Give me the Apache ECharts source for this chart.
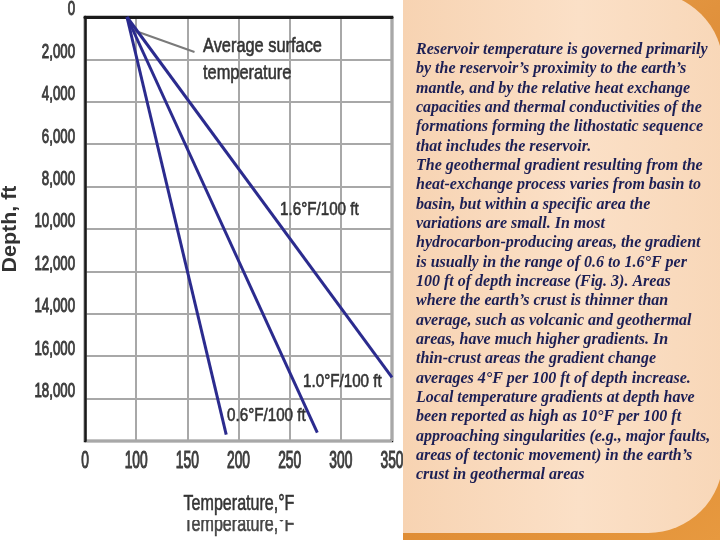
<!DOCTYPE html>
<html><head><meta charset="utf-8">
<script src="https://cdn.jsdelivr.net/npm/echarts@6/dist/echarts.min.js"></script>
<style>html,body{margin:0;padding:0;background:#fff}#c{width:720px;height:540px}</style>
</head><body><div id="c"></div>
<script>
// ---- data ----
const xTicks = [50, 100, 150, 200, 250, 300, 350];
const xTickLabels = ['0', '100', '150', '200', '250', '300', '350'];
const yTicks = [0, 2000, 4000, 6000, 8000, 10000, 12000, 14000, 16000, 18000];
const yTickLabels = ['0', '2,000', '4,000', '6,000', '8,000', '10,000', '12,000', '14,000', '16,000', '18,000'];
const surfaceTemp = 91;
const line06 = [[surfaceTemp, 0], [188, 19700]];
const line10 = [[surfaceTemp, 0], [277, 19600]];
const line16 = [[surfaceTemp, 0], [350, 17000]];
const leader = [[96, 600], [157, 1650]];
const lineLabels = ['0.6°F/100 ft', '1.0°F/100 ft', '1.6°F/100 ft'];
const annotation = ['Average surface', 'temperature'];
const xName = 'Temperature,°F';
const yName = 'Depth, ft';
const panelLines = [
 'Reservoir temperature is governed primarily',
 'by the reservoir’s proximity to the earth’s',
 'mantle, and by the relative heat exchange',
 'capacities and thermal conductivities of the',
 'formations forming the lithostatic sequence',
 'that includes the reservoir.',
 'The geothermal gradient resulting from the',
 'heat-exchange process varies from basin to',
 'basin, but within a specific area the',
 'variations are small. In most',
 'hydrocarbon-producing areas, the gradient',
 'is usually in the range of 0.6 to 1.6°F per',
 '100 ft of depth increase (Fig. 3). Areas',
 'where the earth’s crust is thinner than',
 'average, such as volcanic and geothermal',
 'areas, have much higher gradients. In',
 'thin-crust areas the gradient change',
 'averages 4°F per 100 ft of depth increase.',
 'Local temperature gradients at depth have',
 'been reported as high as 10°F per 100 ft',
 'approaching singularities (e.g., major faults,',
 'areas of tectonic movement) in the earth’s',
 'crust in geothermal areas'
];

const SANS = '"Liberation Sans",Arial,sans-serif';
const TXT = '#333';
const chart = echarts.init(document.getElementById('c'));

function ctext(x, y, text, size, sx, opts) {
  opts = opts || {};
  const fill = opts.fill || TXT;
  const st = {text:text, font:(opts.weight||'normal')+' '+size+'px '+SANS, fill:fill,
      textAlign:opts.align||'left', textVerticalAlign:opts.valign||'middle'};
  if (opts.medium) { st.stroke = fill; st.lineWidth = opts.medium; }
  return {type:'text', x:x, y:y, scaleX:sx, rotation:opts.rotation||0, z:opts.z||10, style:st};
}

const lineStyle = {color:'#2b2b8e', width:3};
chart.setOption({
  animation:false,
  backgroundColor:'#fff',
  grid:{left:85, right:328, top:17, bottom:99, show:true, borderColor:'#1a1a1a', borderWidth:2.5, containLabel:false},
  xAxis:{type:'value', min:50, max:350, interval:50,
    axisLine:{show:true, lineStyle:{color:'#1a1a1a', width:3}},
    axisTick:{show:false}, axisLabel:{show:false},
    splitLine:{show:true, lineStyle:{color:'#a8a8a8', width:2}}},
  yAxis:{type:'value', inverse:true, min:0, max:20000, interval:2000,
    axisLine:{show:true, lineStyle:{color:'#1a1a1a', width:2.5}},
    axisTick:{show:false}, axisLabel:{show:false},
    splitLine:{show:true, lineStyle:{color:'#a8a8a8', width:2}}},
  series:[
    {type:'line', data:line06, symbol:'none', lineStyle, z:5},
    {type:'line', data:line10, symbol:'none', lineStyle, z:5},
    {type:'line', data:line16, symbol:'none', lineStyle, z:5},
    {type:'line', data:leader, symbol:'none', lineStyle:{color:'#7a7a7a', width:2}, z:4}
  ]
});

const graphics = [];
// tick labels through the axes' scales
xTicks.forEach((v,i)=>{
  const p = chart.convertToPixel({gridIndex:0}, [v, 20000]);
  graphics.push(ctext(p[0], p[1]+21, xTickLabels[i], 23, 0.6, {align:'center', fill:'#3c3c3c', medium:1.1}));
});
yTicks.forEach((v,i)=>{
  const p = chart.convertToPixel({gridIndex:0}, [50, v]);
  graphics.push(ctext(p[0]-10, p[1]-7, yTickLabels[i], 19.5, 0.68, {align:'right', fill:'#3c3c3c', medium:1}));
});
// annotations
graphics.push(ctext(203, 46, annotation[0], 21, 0.78, {fill:'#333', medium:0.6}));
graphics.push(ctext(203, 73, annotation[1], 21, 0.78, {fill:'#333', medium:0.6}));
graphics.push(ctext(280, 210, lineLabels[2], 19, 0.8, {fill:'#333', medium:0.6}));
graphics.push(ctext(303, 382, lineLabels[1], 19, 0.8, {fill:'#333', medium:0.6}));
graphics.push(ctext(227, 416, lineLabels[0], 19, 0.8, {fill:'#333', medium:0.6}));
// axis titles (with ghost duplicate clipped at top)
graphics.push(ctext(239, 536, xName, 22, 0.73, {align:'center', valign:'bottom', fill:'#444', z:10, medium:0.6}));
graphics.push({type:'rect', shape:{x:150, y:507, width:200, height:13}, z:11, style:{fill:'#fff'}});
graphics.push(ctext(239, 504, xName, 22, 0.73, {align:'center', fill:'#333', z:12, medium:0.6}));
graphics.push(ctext(11, 229, yName, 19.5, 1.1, {align:'center', weight:'bold', fill:'#333', rotation:Math.PI/2, z:12}));
// panel
graphics.push({type:'rect', shape:{x:403, y:0, width:317, height:540}, z:20,
  style:{fill:new echarts.graphic.LinearGradient(0,0,1,1,[{offset:0,color:'#eaa450'},{offset:0.5,color:'#d9822c'},{offset:1,color:'#e7993f'}])}});
graphics.push({type:'rect', shape:{x:403, y:-8, width:320, height:541, r:[0,75,75,0]}, z:21,
  style:{fill:new echarts.graphic.LinearGradient(0,0,1,0,[{offset:0,color:'#f7d3b2'},{offset:0.55,color:'#fbe0c7'},{offset:1,color:'#f8d7b8'}])}});
panelLines.forEach((t,i)=>{
  graphics.push({type:'text', x:416, y:50+19.32*i, z:22,
    style:{text:t, font:'italic bold 16px "Liberation Serif","Times New Roman",serif', fill:'#1c1f55', textVerticalAlign:'middle'}});
});
chart.setOption({graphic:graphics});
</script></body></html>
